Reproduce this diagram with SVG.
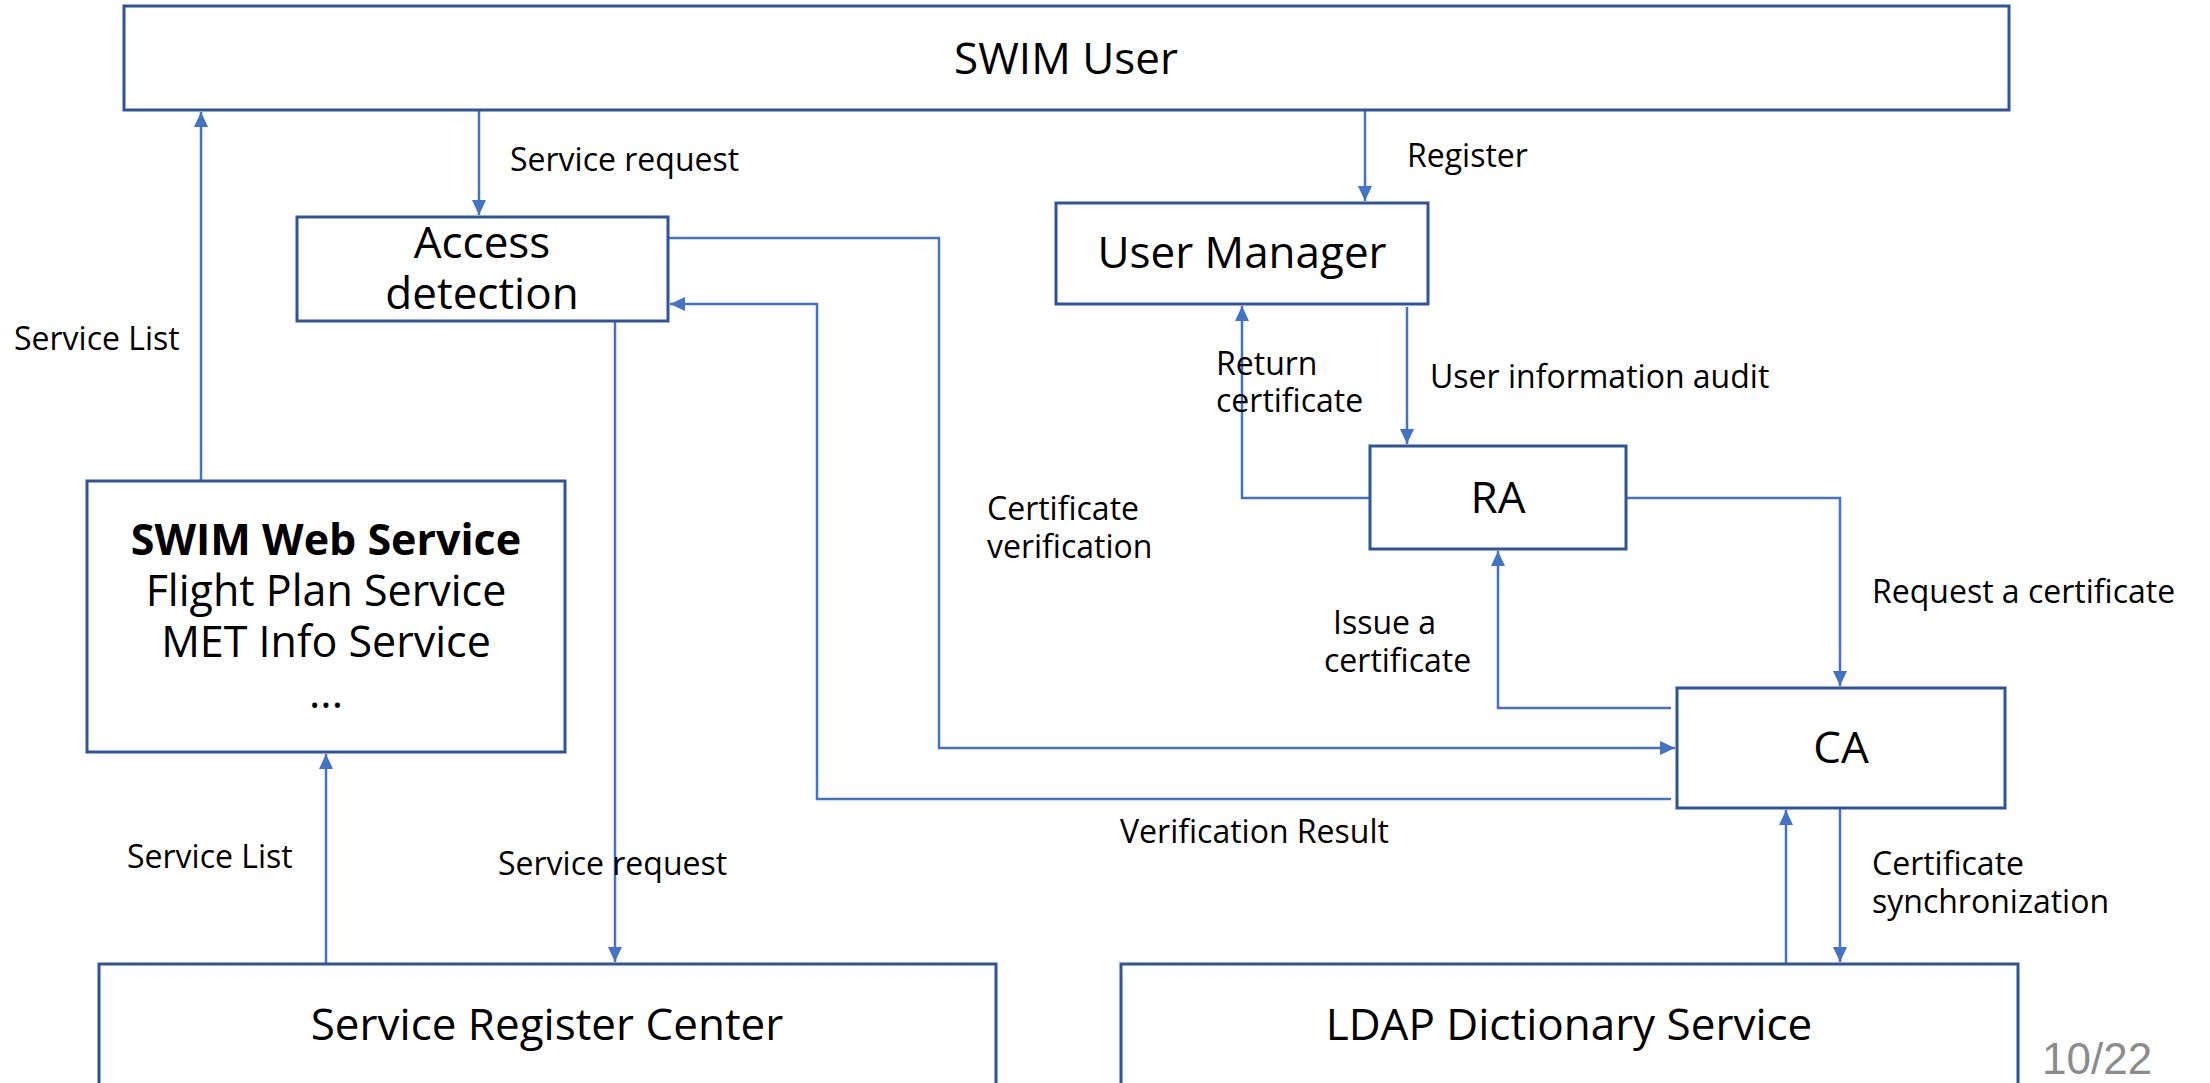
<svg xmlns="http://www.w3.org/2000/svg" width="2210" height="1083" viewBox="0 0 2210 1083">
  <defs>
    <style>
      .box { fill: #ffffff; stroke: #2F5597; stroke-width: 3; }
      .node { font-family: "Open Sans", "Noto Sans", sans-serif; font-size: 44px; fill: #000; text-anchor: middle; }
      .list { font-size: 43px; }
      .bold { font-weight: bold; }
      .lbl { font-family: "Open Sans", "Noto Sans", sans-serif; font-size: 32px; fill: #000; }
      .conn { fill: none; stroke: #4472C4; stroke-width: 2.5; }
      .page { font-family: "Liberation Sans", Arial, sans-serif; font-size: 44px; fill: #8c8c8c; }
    </style>
    <marker id="arrow" markerUnits="userSpaceOnUse" markerWidth="16" markerHeight="14" refX="15" refY="7" orient="auto">
      <path d="M0,0 L15,7 L0,14 z" fill="#4472C4"/>
    </marker>
  </defs>

  <rect width="2210" height="1083" fill="#ffffff"/>

  <!-- connectors -->
  <g id="connectors">
    <!-- SWIM User -> Access detection -->
    <line class="conn" x1="479" y1="111" x2="479" y2="215" marker-end="url(#arrow)"/>
    <!-- SWIM Web Service -> SWIM User -->
    <line class="conn" x1="201" y1="480" x2="201" y2="112" marker-end="url(#arrow)"/>
    <!-- Access detection -> Service Register Center -->
    <line class="conn" x1="615" y1="321" x2="615" y2="962" marker-end="url(#arrow)"/>
    <!-- Service Register Center -> SWIM Web Service -->
    <line class="conn" x1="326" y1="964" x2="326" y2="754" marker-end="url(#arrow)"/>
    <!-- Access detection -> CA (certificate verification) -->
    <polyline class="conn" points="669,238 939,238 939,748 1675,748" marker-end="url(#arrow)"/>
    <!-- CA -> Access detection (verification result) -->
    <polyline class="conn" points="1671,799 817,799 817,304 670,304" marker-end="url(#arrow)"/>
    <!-- SWIM User -> User Manager -->
    <line class="conn" x1="1365" y1="111" x2="1365" y2="201" marker-end="url(#arrow)"/>
    <!-- User Manager -> RA -->
    <line class="conn" x1="1407" y1="307" x2="1407" y2="444" marker-end="url(#arrow)"/>
    <!-- RA -> User Manager (return certificate) -->
    <polyline class="conn" points="1369,498 1242,498 1242,306" marker-end="url(#arrow)"/>
    <!-- RA -> CA (request a certificate) -->
    <polyline class="conn" points="1627,498 1840,498 1840,686" marker-end="url(#arrow)"/>
    <!-- CA -> RA (issue a certificate) -->
    <polyline class="conn" points="1671,708 1498,708 1498,551" marker-end="url(#arrow)"/>
    <!-- LDAP -> CA -->
    <line class="conn" x1="1786" y1="964" x2="1786" y2="810" marker-end="url(#arrow)"/>
    <!-- CA -> LDAP (certificate synchronization) -->
    <line class="conn" x1="1840" y1="809" x2="1840" y2="962" marker-end="url(#arrow)"/>
  </g>

  <!-- connector labels -->
  <g id="labels">
    <text class="lbl" x="510" y="171">Service request</text>
    <text class="lbl" x="14" y="350">Service List</text>
    <text class="lbl" x="127" y="868">Service List</text>
    <text class="lbl" x="498" y="875">Service request</text>
    <text class="lbl" x="987" y="520">Certificate</text>
    <text class="lbl" x="987" y="558">verification</text>
    <text class="lbl" x="1120" y="843">Verification Result</text>
    <text class="lbl" x="1407" y="167">Register</text>
    <text class="lbl" x="1216" y="375">Return</text>
    <text class="lbl" x="1216" y="412">certificate</text>
    <text class="lbl" x="1430" y="388">User information audit</text>
    <text class="lbl" x="1872" y="603">Request a certificate</text>
    <text class="lbl" x="1333" y="634">Issue a</text>
    <text class="lbl" x="1324" y="672">certificate</text>
    <text class="lbl" x="1872" y="875">Certificate</text>
    <text class="lbl" x="1872" y="913">synchronization</text>
  </g>

  <!-- nodes -->
  <g id="swim-user">
    <rect class="box" x="124" y="6" width="1885" height="104"/>
    <text class="node" x="1066" y="74">SWIM User</text>
  </g>
  <g id="access-detection">
    <rect class="box" x="297" y="217" width="371" height="104"/>
    <text class="node" x="482" y="258">Access</text>
    <text class="node" x="482" y="309">detection</text>
  </g>
  <g id="user-manager">
    <rect class="box" x="1056" y="203" width="372" height="101"/>
    <text class="node" x="1242" y="268">User Manager</text>
  </g>
  <g id="swim-web-service">
    <rect class="box" x="87" y="481" width="478" height="271"/>
    <text class="node list bold" x="326" y="555">SWIM Web Service</text>
    <text class="node list" x="326" y="606">Flight Plan Service</text>
    <text class="node list" x="326" y="657">MET Info Service</text>
    <text class="node list" x="326" y="708">...</text>
  </g>
  <g id="ra">
    <rect class="box" x="1370" y="446" width="256" height="103"/>
    <text class="node" x="1498" y="513">RA</text>
  </g>
  <g id="ca">
    <rect class="box" x="1677" y="688" width="328" height="120"/>
    <text class="node" x="1841" y="763">CA</text>
  </g>
  <g id="service-register-center">
    <rect class="box" x="99" y="964" width="897" height="140"/>
    <text class="node" x="547" y="1040">Service Register Center</text>
  </g>
  <g id="ldap-dictionary-service">
    <rect class="box" x="1121" y="964" width="897" height="140"/>
    <text class="node" x="1569" y="1040">LDAP Dictionary Service</text>
  </g>

  <text class="page" x="2042" y="1074">10/22</text>
</svg>
